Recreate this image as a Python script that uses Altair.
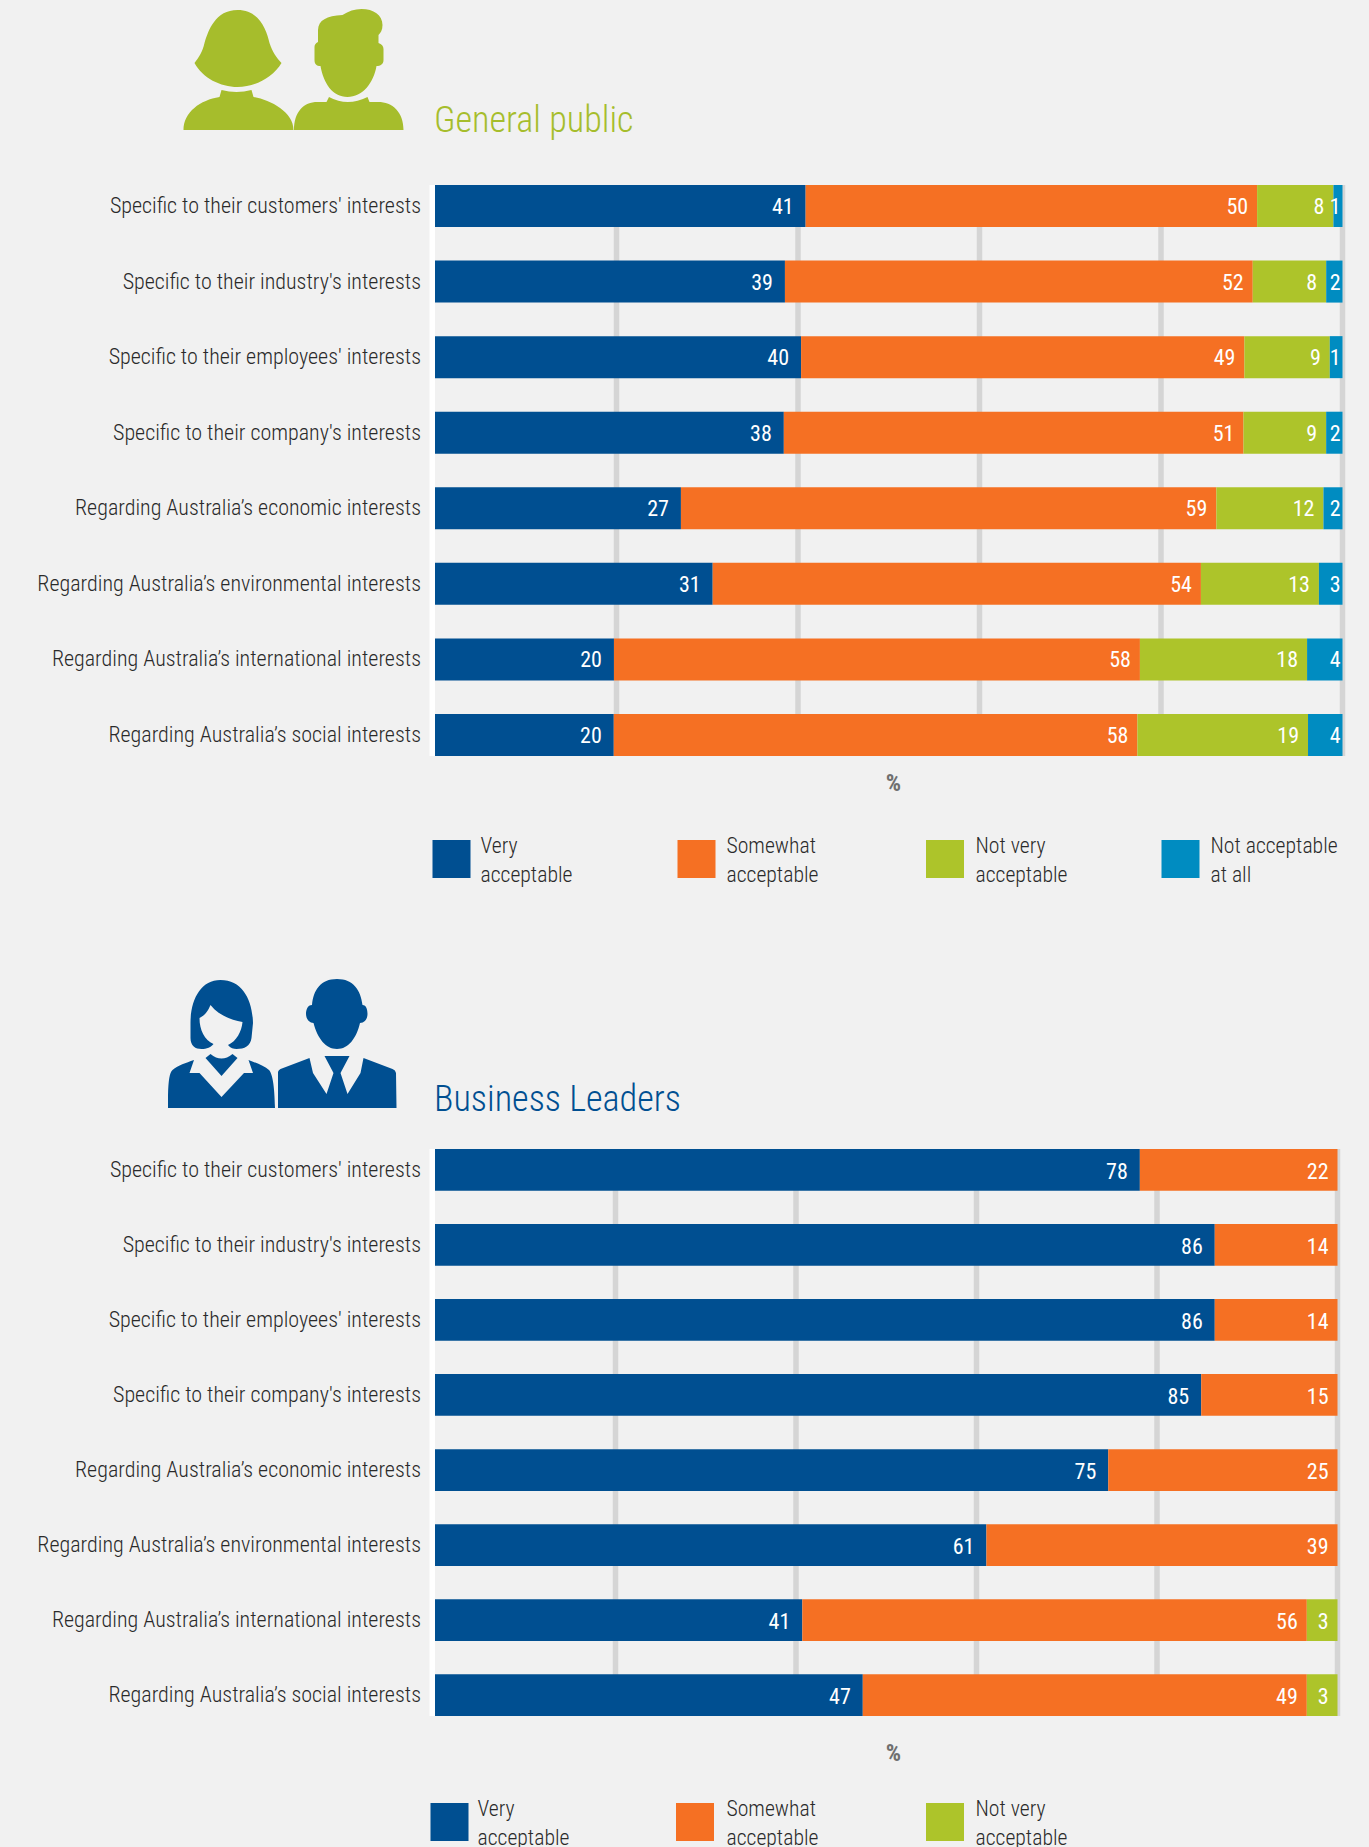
import altair as alt

# ---------- data ----------
categories = [
    "Specific to their customers' interests",
    "Specific to their industry's interests",
    "Specific to their employees' interests",
    "Specific to their company's interests",
    "Regarding Australia’s economic interests",
    "Regarding Australia’s environmental interests",
    "Regarding Australia’s international interests",
    "Regarding Australia’s social interests",
]
series_names = ["Very acceptable", "Somewhat acceptable", "Not very acceptable", "Not acceptable at all"]

public_very = [40.8, 38.6, 40.3, 38.4, 27.1, 30.6, 19.7, 19.7]
public_somewhat = [49.7, 51.6, 48.8, 50.6, 59.0, 53.8, 57.9, 57.7]
public_notvery = [8.4, 8.1, 9.4, 9.1, 11.8, 13.0, 18.4, 18.8]
public_notatall = [1.0, 1.8, 1.4, 1.8, 2.1, 2.6, 3.9, 3.8]

leaders_very = [78.1, 86.4, 86.4, 84.9, 74.6, 61.1, 40.7, 47.4]
leaders_somewhat = [21.9, 13.6, 13.6, 15.1, 25.4, 38.9, 55.9, 49.2]
leaders_notvery = [0, 0, 0, 0, 0, 0, 3.4, 3.4]
leaders_notatall = [0, 0, 0, 0, 0, 0, 0, 0]

grid_values = [0.2, 0.4, 0.6, 0.8, 1.0]

# ---------- style ----------
BG = "#f1f1f1"
COLORS = ["#004f91", "#f57023", "#adc42a", "#008cc1"]
GREEN_TITLE = "#a6bd2c"
BLUE_TITLE = "#004f91"
NARROW = "Roboto"
TEXT = "#2a2a2a"

WOMAN_GREEN = ("M97,10 C75,10 68,30 64,43 C62,52 58,58 54,63 C62,78 80,87 97,87 C114,87 132,78 141,63 "
               "C136,58 132,52 129,43 C126,30 119,10 97,10 Z "
               "M43,130 C43,112 60,100 79,97 L81,90 Q96,94 111,90 L113,97 C130,100 153,112 153,130 Z")
MAN_GREEN = ("M177.5,42 L177.5,30 C178,20 186,16 202,15 C208,11 214,9 221,9 C233,9 242,15 242,25 C242,30 240,33 238,35 "
             "L238,43 C241,44 243,46 243,49 L243,60 C243,64 240,66 236,66 C233,83 222,97 207,97 C192,97 183,83 180,66 "
             "C176,66 174,64 174,60 L174,47 C174,45 175,43 177.5,42 Z "
             "M153.5,130 C153.5,112 163,102 177,102 L186,102 L188.5,97 Q207,107 227,97 L229,102 L237.5,102 "
             "C252,102 263,112 263,130 Z")
WOMAN_BLUE = ("M80,20 C60,20 50,40 50,63 L50,78 C50,86 55,89 61,89 C66,89 71,87 73,84 C64,80 59,70 59,58 "
              "C65,55 68,50 70,45 C78,55 90,60 102,62 C101,72 96,81 87.5,85 C90,88 93,89 96,89 C104,89 110,86 111,78 "
              "L112.5,63 C112,40 102,20 80,20 Z "
              "M65,98 L70,94 Q81,103 92,94 L97,98 L81,116 Z "
              "M27.5,148 L27.5,135 C28,120 29,113 32,110 C38,105 45,103 53.5,100 L49,113 L59,113 L81,137 L103.5,113 "
              "L112.5,113 L108,100 C116,103 124,106 128.5,110 C132,114 134,125 134.5,148 Z")
MAN_BLUE = ("M196.5,19 C180,19 173,30 171.5,45 C167,45 165.5,50 165.5,54 C165.5,59 169,63 173,63 C177,78 185,89 196.5,89 "
            "C208,89 216,78 219.5,63 C224,63 227,59 227,54 C227,50 226,45 222,45 C220,30 213,19 196.5,19 Z "
            "M137.5,148 L137.5,112 Q138,110 140,109 L169,98 L172.5,113 L186,134 L193,113 L184,96 L209,96 L200,113 "
            "L207,134 L220,113 L223,98 L252,109 Q255,110 255.5,113 L256,148 Z")

ONE = alt.Data(values=[{"k": 1}])
ANCHOR_X = -600  # far left of any label, pulled back by the negative left padding


def rows_for(*columns):
    rows = []
    for s, col in enumerate(columns):
        for c, v in zip(categories, col):
            if v > 0:
                rows.append({"cat": c, "v": v, "order": s, "name": series_names[s]})
    return rows


def text_at(txt, x, y, size, color, font=NARROW, weight="normal", align="left"):
    return alt.Chart(ONE).mark_text(
        text=txt, font=font, fontSize=size, color=color, fontWeight=weight,
        align=align, baseline="alphabetic"
    ).encode(x=alt.value(x), y=alt.value(y))


def rect_at(x0, x1, y0, y1, color):
    return alt.Chart(ONE).mark_rect(color=color, opacity=1).encode(
        x=alt.value(x0), x2=alt.value(x1), y=alt.value(y0), y2=alt.value(y1)
    )


def icon(path, x, y, color):
    return alt.Chart(ONE).mark_point(shape=path, size=4, filled=True, fill=color, stroke=None, opacity=1).encode(
        x=alt.value(x), y=alt.value(y)
    )


def panel(columns, width, height, title, title_color, title_base, icons, pct_y, legend_items, legend_top,
          label_dy, anchor=False):
    data = alt.Data(values=rows_for(*columns))
    xs = alt.Scale(domain=[0, 1], nice=False, zero=False)
    ys = alt.Scale(paddingInner=0.444, paddingOuter=0)
    y_enc = alt.Y("cat:N", sort=categories, scale=ys, title=None,
                  axis=alt.Axis(domain=False, ticks=False, grid=False, labelFont=NARROW, labelFontSize=22,
                                labelColor=TEXT, labelPadding=14.5, labelLimit=580, labelFontWeight=300))

    grid = alt.Chart(alt.Data(values=[{"g": g} for g in grid_values])).mark_rule(
        color="#d5d5d5", strokeWidth=5.5
    ).encode(x=alt.X("g:Q", scale=xs, axis=None))
    zero = alt.Chart(ONE).mark_rule(color="#ffffff", strokeWidth=5.5).encode(
        x=alt.value(-2.75), y=alt.value(0), y2=alt.value(height))

    base = alt.Chart(data).transform_stack(
        stack="v", groupby=["cat"], offset="normalize", as_=["x0", "x1"],
        sort=[alt.SortField("order", order="ascending")]
    )
    bars = base.mark_bar(opacity=1).encode(
        x=alt.X("x0:Q", scale=xs, axis=None), x2="x1:Q", y=y_enc,
        color=alt.Color("name:N", scale=alt.Scale(domain=series_names, range=COLORS), legend=None),
    )

    def value_labels(expr, dx):
        return base.transform_filter(expr).mark_text(
            dx=dx, dy=label_dy, font=NARROW, fontSize=22, color="#ffffff", align="right", baseline="middle"
        ).encode(x=alt.X("x1:Q", scale=xs, axis=None), y=y_enc, text=alt.Text("v:Q", format=".0f"))

    layers = [grid, zero, bars,
              value_labels("datum.order == 0", -12),
              value_labels("datum.order == 1 || datum.order == 2", -9),
              value_labels("datum.order == 3", -2)]
    layers.append(text_at(title, -1, title_base, 36.2, title_color, weight=300))
    layers += icons
    layers.append(text_at("%", 458.5, pct_y, 24, "#6f6f6f", weight="bold", align="center"))
    for (name1, name2, sx, tx, col) in legend_items:
        layers.append(rect_at(sx, sx + 38, legend_top, legend_top + 38, col))
        layers.append(text_at(name1, tx, legend_top + 13, 21.7, TEXT, weight=300))
        layers.append(text_at(name2, tx, legend_top + 42, 21.7, TEXT, weight=300))
    if anchor:
        layers.append(alt.Chart(ONE).mark_point(size=1, opacity=0).encode(
            x=alt.value(ANCHOR_X), y=alt.value(-176)))
    return alt.layer(*layers).properties(width=width, height=height)


top = panel(
    [public_very, public_somewhat, public_notvery, public_notatall],
    907.5, 571, "General public", GREEN_TITLE, -53,
    [icon(WOMAN_GREEN, -294.5, -185, GREEN_TITLE), icon(MAN_GREEN, -294.5, -185, GREEN_TITLE)],
    605.5,
    [("Very", "acceptable", -2.5, 45.5, COLORS[0]),
     ("Somewhat", "acceptable", 242.5, 291.5, COLORS[1]),
     ("Not very", "acceptable", 491, 540.5, COLORS[2]),
     ("Not acceptable", "at all", 726.5, 775.5, COLORS[3])],
    655, 1, anchor=True,
)
bottom = panel(
    [leaders_very, leaders_somewhat, leaders_notvery, leaders_notatall],
    902.5, 567, "Business Leaders", BLUE_TITLE, -38.3,
    [icon(WOMAN_BLUE, -294.5, -189, BLUE_TITLE), icon(MAN_BLUE, -294.5, -189, BLUE_TITLE)],
    612,
    [("Very", "acceptable", -4.5, 42.5, COLORS[0]),
     ("Somewhat", "acceptable", 241, 291.5, COLORS[1]),
     ("Not very", "acceptable", 491, 540.5, COLORS[2])],
    654, 2,
)

chart = alt.vconcat(top, bottom, spacing=393, bounds="flush").properties(
    padding={"left": ANCHOR_X + 426, "top": 0, "right": 0, "bottom": 0}, background=BG
).configure_view(stroke=None)

chart.save("out.html", embed_options={"renderer": "svg", "actions": False,
                                       "defaultStyle": "html,body{background:#f1f1f1;overflow:hidden} svg text{font-stretch:75%}"})
